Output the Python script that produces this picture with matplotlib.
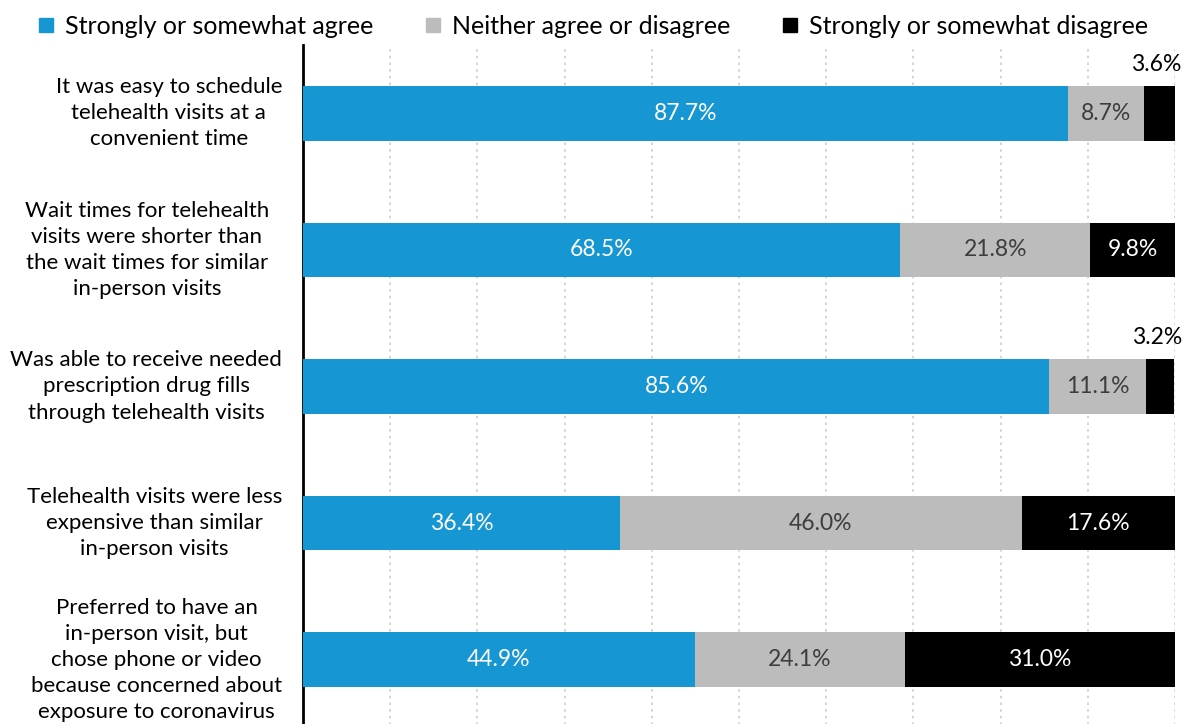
import numpy as np
import matplotlib.pyplot as plt
from matplotlib.lines import Line2D
from matplotlib.transforms import blended_transform_factory

plt.rcParams['font.family'] = ['Lato', 'DejaVu Sans']

categories = [
    "It was easy to schedule\ntelehealth visits at a\nconvenient time",
    "Wait times for telehealth\nvisits were shorter than\nthe wait times for similar\nin-person visits",
    "Was able to receive needed\nprescription drug fills\nthrough telehealth visits",
    "Telehealth visits were less\nexpensive than similar\nin-person visits",
    "Preferred to have an\nin-person visit, but\nchose phone or video\nbecause concerned about\nexposure to coronavirus",
]
agree = [87.7, 68.5, 85.6, 36.4, 44.9]
neither = [8.7, 21.8, 11.1, 46.0, 24.1]
disagree = [3.6, 9.8, 3.2, 17.6, 31.0]
series_names = ["Strongly or somewhat agree", "Neither agree or disagree", "Strongly or somewhat disagree"]

colors = ['#1696d2', '#bcbcbc', '#000000']
text_colors = ['white', '#3d3d3d', 'white']

fig = plt.figure(figsize=(11.82, 7.24), dpi=100)
ax = fig.add_axes([303 / 1182, -4 / 724, 872 / 1182, 683 / 724])

y = np.arange(len(categories))
left = np.zeros(len(categories))
for vals, c, tc in zip([agree, neither, disagree], colors, text_colors):
    vals = np.array(vals)
    ax.barh(y, vals, left=left, height=0.4, color=c, zorder=3)
    for i, v in enumerate(vals):
        cx = left[i] + v / 2
        if v < 5:
            ax.text(cx - 0.4, y[i] - 0.31, f"{v:.1f}%", ha='center', va='baseline',
                    fontsize=16.5, color='black')
        else:
            ax.text(cx, y[i], f"{v:.1f}%", ha='center', va='center',
                    fontsize=16.5, color=tc, zorder=4)
    left += vals

ax.set_xlim(0, 100)
ax.set_ylim(len(categories) - 0.5, -0.5)
ax.set_xticks(np.arange(10, 101, 10))
ax.set_xticklabels([])
ax.tick_params(axis='both', length=0)
ax.set_yticks(y)
ax.set_yticklabels([])
ax.grid(axis='x', color='#cccccc', linestyle=(0, (1.5, 2.5)), linewidth=1.2, zorder=0)
for s in ['top', 'right', 'bottom']:
    ax.spines[s].set_visible(False)
ax.spines['left'].set_linewidth(2)
ax.spines['left'].set_color('black')

label_tr = blended_transform_factory(fig.transFigure, ax.transData)
label_right = [282, 269, 282, 282, 282]
for i, lab in enumerate(categories):
    ax.text(label_right[i] / 1182, i, lab, transform=label_tr,
            ha='right', va='center', multialignment='center',
            fontsize=16, linespacing=1.38)

handles = [Line2D([], [], marker='s', linestyle='none', markersize=10, color=c) for c in colors]
fig.legend(handles, series_names, loc='center', bbox_to_anchor=(0.5, 1 - 26 / 724), ncol=3,
           frameon=False, fontsize=18, handletextpad=0.25, columnspacing=1.9,
           borderaxespad=0, handlelength=1.0)

fig.savefig('out.png', dpi=100)
